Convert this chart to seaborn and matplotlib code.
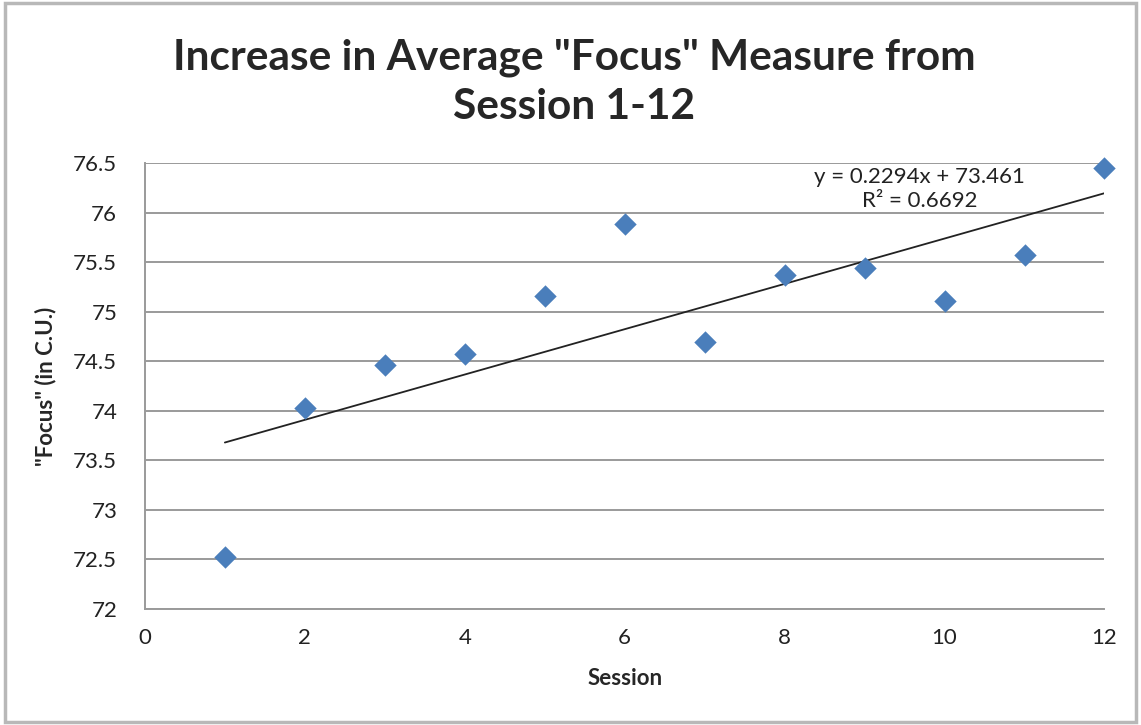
import numpy as np
import pandas as pd
import matplotlib
matplotlib.use("Agg")
import matplotlib.pyplot as plt
import seaborn as sns
from matplotlib.patches import Rectangle

# values
sessions = [1, 2, 3, 4, 5, 6, 7, 8, 9, 10, 11, 12]
focus = [72.52, 74.03, 74.46, 74.57, 75.16, 75.89, 74.69, 75.37, 75.44, 75.11, 75.57, 76.45]
x_ticks = [0, 2, 4, 6, 8, 10, 12]
y_ticks = [72, 72.5, 73, 73.5, 74, 74.5, 75, 75.5, 76, 76.5]
y_tick_labels = ["72", "72.5", "73", "73.5", "74", "74.5", "75", "75.5", "76", "76.5"]
eq_text = "y = 0.2294x + 73.461"
r2_text = "R\u00b2 = 0.6692"

df = pd.DataFrame({"Session": sessions, "Focus": focus})

sns.set_theme(style="white")
plt.rcParams["font.family"] = ["Lato", "DejaVu Sans"]

fig = plt.figure(figsize=(11.41, 7.25), dpi=100)
ax = fig.add_axes([0.127, 0.160, 0.841, 0.615])

# outer chart border
fig.patches.append(Rectangle((0.004, 0.004), 0.992, 0.992, transform=fig.transFigure,
                             fill=False, edgecolor="#b8b8b8", linewidth=2.5))

# linear trendline over the data range
sns.regplot(data=df, x="Session", y="Focus", ax=ax, ci=None, truncate=True,
            scatter=False, line_kws={"color": "#222222", "linewidth": 1.3})
sns.scatterplot(data=df, x="Session", y="Focus", ax=ax, marker="D", s=130,
                color="#4a7ebb", edgecolor="#4a7ebb", linewidth=0, zorder=3,
                clip_on=False)

ax.set_xlim(0, 12)
ax.set_ylim(72, 76.5)
ax.set_xticks(x_ticks)
ax.set_yticks(y_ticks)
ax.set_yticklabels(y_tick_labels)
ax.tick_params(axis="x", labelsize=16, length=0, pad=14, colors="#222222")
ax.tick_params(axis="y", labelsize=16, length=0, pad=20, colors="#222222")
ax.yaxis.grid(True, color="#9a9a9a", linewidth=1.4)
ax.xaxis.grid(False)
for side in ["top", "right"]:
    ax.spines[side].set_visible(False)
for side in ["left", "bottom"]:
    ax.spines[side].set_color("#9a9a9a")
    ax.spines[side].set_linewidth(1.4)

ax.set_xlabel("Session", fontsize=16, fontweight="bold", labelpad=14)
ax.set_ylabel('"Focus" (in C.U.)', fontsize=16, fontweight="bold", labelpad=12)

ax.text(9.69, 76.36, eq_text, ha="center", va="center", fontsize=16, color="#222222")
ax.text(9.69, 76.12, r2_text, ha="center", va="center", fontsize=16, color="#222222")

fig.suptitle('Increase in Average "Focus" Measure from\nSession 1-12', x=0.503, y=0.947,
             fontsize=30.5, fontweight="bold", linespacing=1.35)

fig.savefig("out.png", dpi=100)
